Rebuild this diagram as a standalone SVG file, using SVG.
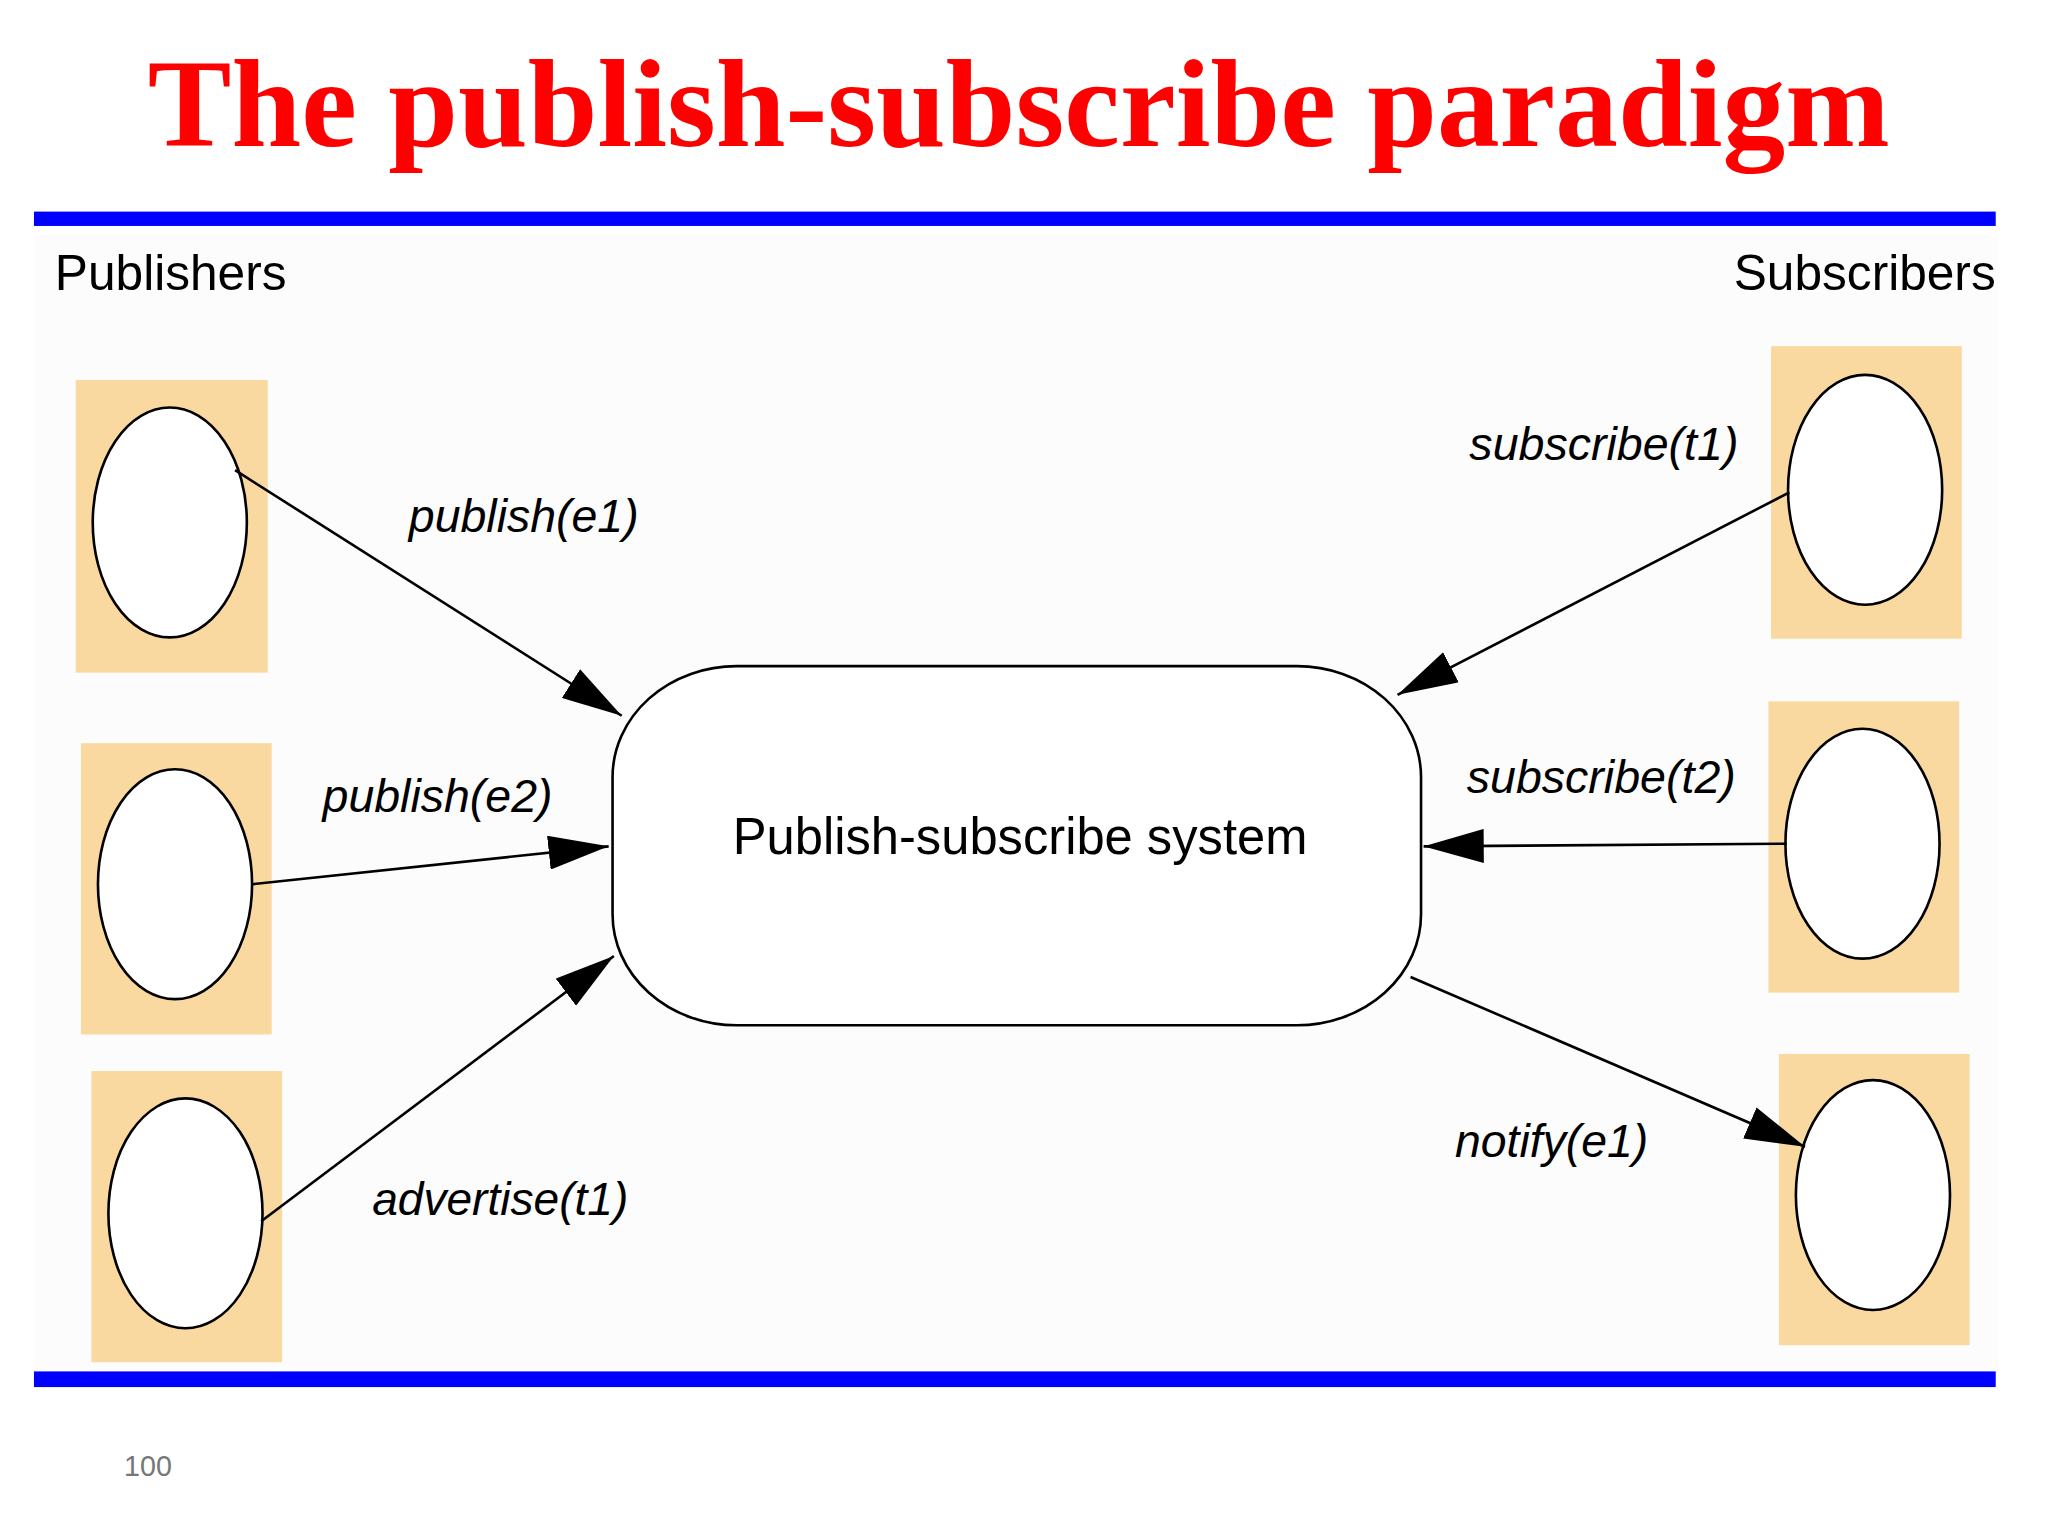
<svg xmlns="http://www.w3.org/2000/svg" width="2048" height="1536" viewBox="0 0 2048 1536">
<style>
.box{fill:#f9d9a0}
.ell{fill:#fff;stroke:#000;stroke-width:2}
.lbl{font-family:"Liberation Sans",Arial,sans-serif;font-style:italic;font-size:36px;fill:#000;text-anchor:middle}
.hdr{font-family:"Liberation Sans",Arial,sans-serif;font-size:38px;fill:#000}
.conn{stroke:#000;stroke-width:2;fill:none;marker-end:url(#ah)}
</style>
<defs>
<marker id="ah" viewBox="0 0 46 26" refX="46" refY="13" markerWidth="46" markerHeight="26" markerUnits="userSpaceOnUse" orient="auto">
<path d="M0,0 L46,13 L0,26 Z" fill="#000"/>
</marker>
</defs>
<rect width="2048" height="1536" fill="#fff"/>
<g transform="scale(1.3061)">
<rect x="26" y="180" width="1504" height="870" fill="#fcfcfc"/>
<text x="780" y="112" text-anchor="middle" font-family="Liberation Serif,'Times New Roman',serif" font-weight="bold" font-size="96" fill="#f00">The publish-subscribe paradigm</text>
<rect x="26" y="162" width="1502" height="11" fill="#0000ff"/>
<rect x="26" y="1050" width="1502" height="12" fill="#0000ff"/>
<text class="hdr" x="42" y="222">Publishers</text>
<text class="hdr" x="1528" y="222" text-anchor="end">Subscribers</text>
<g id="pub1"><rect class="box" x="58" y="291" width="147" height="224"/><ellipse class="ell" cx="130" cy="400" rx="59" ry="88"/></g>
<g id="pub2"><rect class="box" x="62" y="569" width="146" height="223"/><ellipse class="ell" cx="134" cy="677" rx="59" ry="88"/></g>
<g id="pub3"><rect class="box" x="70" y="820" width="146" height="223"/><ellipse class="ell" cx="142" cy="929" rx="59" ry="88"/></g>
<g id="sub1"><rect class="box" x="1356" y="265" width="146" height="224"/><ellipse class="ell" cx="1428" cy="375" rx="59" ry="88"/></g>
<g id="sub2"><rect class="box" x="1354" y="537" width="146" height="223"/><ellipse class="ell" cx="1426" cy="646" rx="59" ry="88"/></g>
<g id="sub3"><rect class="box" x="1362" y="807" width="146" height="223"/><ellipse class="ell" cx="1434" cy="915" rx="59" ry="88"/></g>
<g id="system"><rect x="469" y="510" width="619" height="275" rx="95" ry="85" fill="#fff" stroke="#000" stroke-width="2"/>
<text x="781" y="654" text-anchor="middle" font-family="Liberation Sans,Arial,sans-serif" font-size="40" textLength="440" lengthAdjust="spacingAndGlyphs">Publish-subscribe system</text></g>
<g id="connectors">
<line class="conn" x1="180" y1="360" x2="476" y2="548"/>
<line class="conn" x1="193" y1="677" x2="466" y2="648"/>
<line class="conn" x1="200" y1="935" x2="470" y2="732"/>
<line class="conn" x1="1370" y1="377" x2="1070" y2="532"/>
<line class="conn" x1="1368" y1="646" x2="1090" y2="648"/>
<line class="conn" x1="1080" y1="748" x2="1382" y2="878"/>
<text class="lbl" x="401" y="407" textLength="176" lengthAdjust="spacingAndGlyphs">publish(e1)</text>
<text class="lbl" x="335" y="622" textLength="176" lengthAdjust="spacingAndGlyphs">publish(e2)</text>
<text class="lbl" x="383" y="930" textLength="196" lengthAdjust="spacingAndGlyphs">advertise(t1)</text>
<text class="lbl" x="1228" y="352" textLength="206" lengthAdjust="spacingAndGlyphs">subscribe(t1)</text>
<text class="lbl" x="1226" y="607" textLength="206" lengthAdjust="spacingAndGlyphs">subscribe(t2)</text>
<text class="lbl" x="1188" y="886" textLength="148" lengthAdjust="spacingAndGlyphs">notify(e1)</text>
</g>
<text x="95" y="1130" font-family="Liberation Sans,Arial,sans-serif" font-size="22" fill="#777">100</text>
</g>
</svg>
